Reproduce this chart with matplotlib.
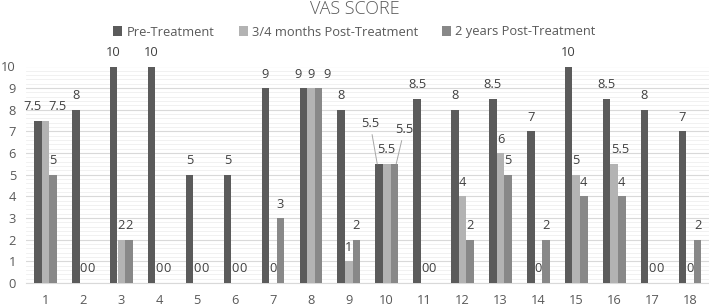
import numpy as np
import matplotlib
matplotlib.use('Agg')
import matplotlib.pyplot as plt
from matplotlib.ticker import MultipleLocator

patients = [str(i) for i in range(1, 19)]
pre = [7.5, 8, 10, 10, 5, 5, 9, 9, 8, 5.5, 8.5, 8, 8.5, 7, 10, 8.5, 8, 7]
post_months = [7.5, 0, 2, 0, 0, 0, 0, 9, 1, 5.5, 0, 4, 6, 0, 5, 5.5, 0, 0]
post_years = [5, 0, 2, 0, 0, 0, 3, 9, 2, 5.5, 0, 2, 5, 2, 4, 4, 0, 2]
series_names = ['Pre-Treatment', '3/4 months Post-Treatment', '2 years Post-Treatment']
colors = ['#5b5b5b', '#b3b3b3', '#888888']

# label nudges in pixels where the labels were moved apart: (patient, series) -> (dx, dy)
label_moves = {
    (0, 0): (-5, 14), (0, 1): (12, 14),
    (7, 0): (-5, 14), (7, 2): (9, 14),
    (15, 1): (6, 14),
    (9, 0): (-7, 40), (9, 2): (8, 34),
}
leader = {(9, 0), (9, 2)}

plt.rcParams['font.family'] = ['Open Sans', 'DejaVu Sans']
text_col = '#595959'
fs = 9.3

fig = plt.figure(figsize=(7.09, 3.06), dpi=100)
ax = fig.add_axes([26.5 / 709, 23 / 306, 682.5 / 709, 216.5 / 306])

x = np.arange(1, 19)
w = 0.2
data = [pre, post_months, post_years]
for s, vals in enumerate(data):
    xs = x + (s - 1) * w
    ax.bar(xs, vals, width=w, color=colors[s], label=series_names[s], zorder=3)
    for i, v in enumerate(vals):
        dx, dy = label_moves.get((i, s), (0, 14))
        lab = f'{v:g}'
        if (i, s) in leader:
            ax.annotate(lab, xy=(xs[i] - 0.05 if s == 0 else xs[i] + 0.05, v),
                        xytext=(dx, dy), textcoords='offset pixels',
                        ha='center', va='center', fontsize=fs, color='#404040',
                        annotation_clip=False,
                        arrowprops=dict(arrowstyle='-', color='#a6a6a6', lw=0.7,
                                        shrinkA=1, shrinkB=0))
        else:
            ax.annotate(lab, xy=(xs[i], v), xytext=(dx, dy),
                        textcoords='offset pixels', ha='center', va='center',
                        fontsize=fs, color='#404040', annotation_clip=False)

ax.set_xlim(0.5, 18.5)
ax.set_ylim(0, 10)
ax.set_xticks(x)
ax.set_xticklabels(patients)
ax.yaxis.set_major_locator(MultipleLocator(1))
ax.yaxis.set_minor_locator(MultipleLocator(0.2))
ax.grid(axis='y', which='major', color='#d9d9d9', lw=0.8, zorder=0)
ax.grid(axis='y', which='minor', color='#efefef', lw=0.6, zorder=0)
ax.tick_params(axis='both', which='both', length=0, labelsize=fs, labelcolor=text_col)
ax.tick_params(axis='y', pad=7.5)
ax.tick_params(axis='x', pad=8)
for sp in ['left', 'right', 'top']:
    ax.spines[sp].set_visible(False)
ax.spines['bottom'].set_color('#d9d9d9')

fig.text(0.5, 0.972, 'VAS SCORE', ha='center', va='center', fontsize=13,
         color=text_col, fontweight='light')
fig.legend(loc='center', bbox_to_anchor=(0.5, 1 - 32 / 306), ncol=3, frameon=False,
           fontsize=fs, handlelength=0.7, handleheight=0.7, handletextpad=0.3,
           columnspacing=1.9, labelcolor=text_col)

fig.savefig('out.png', dpi=100)
